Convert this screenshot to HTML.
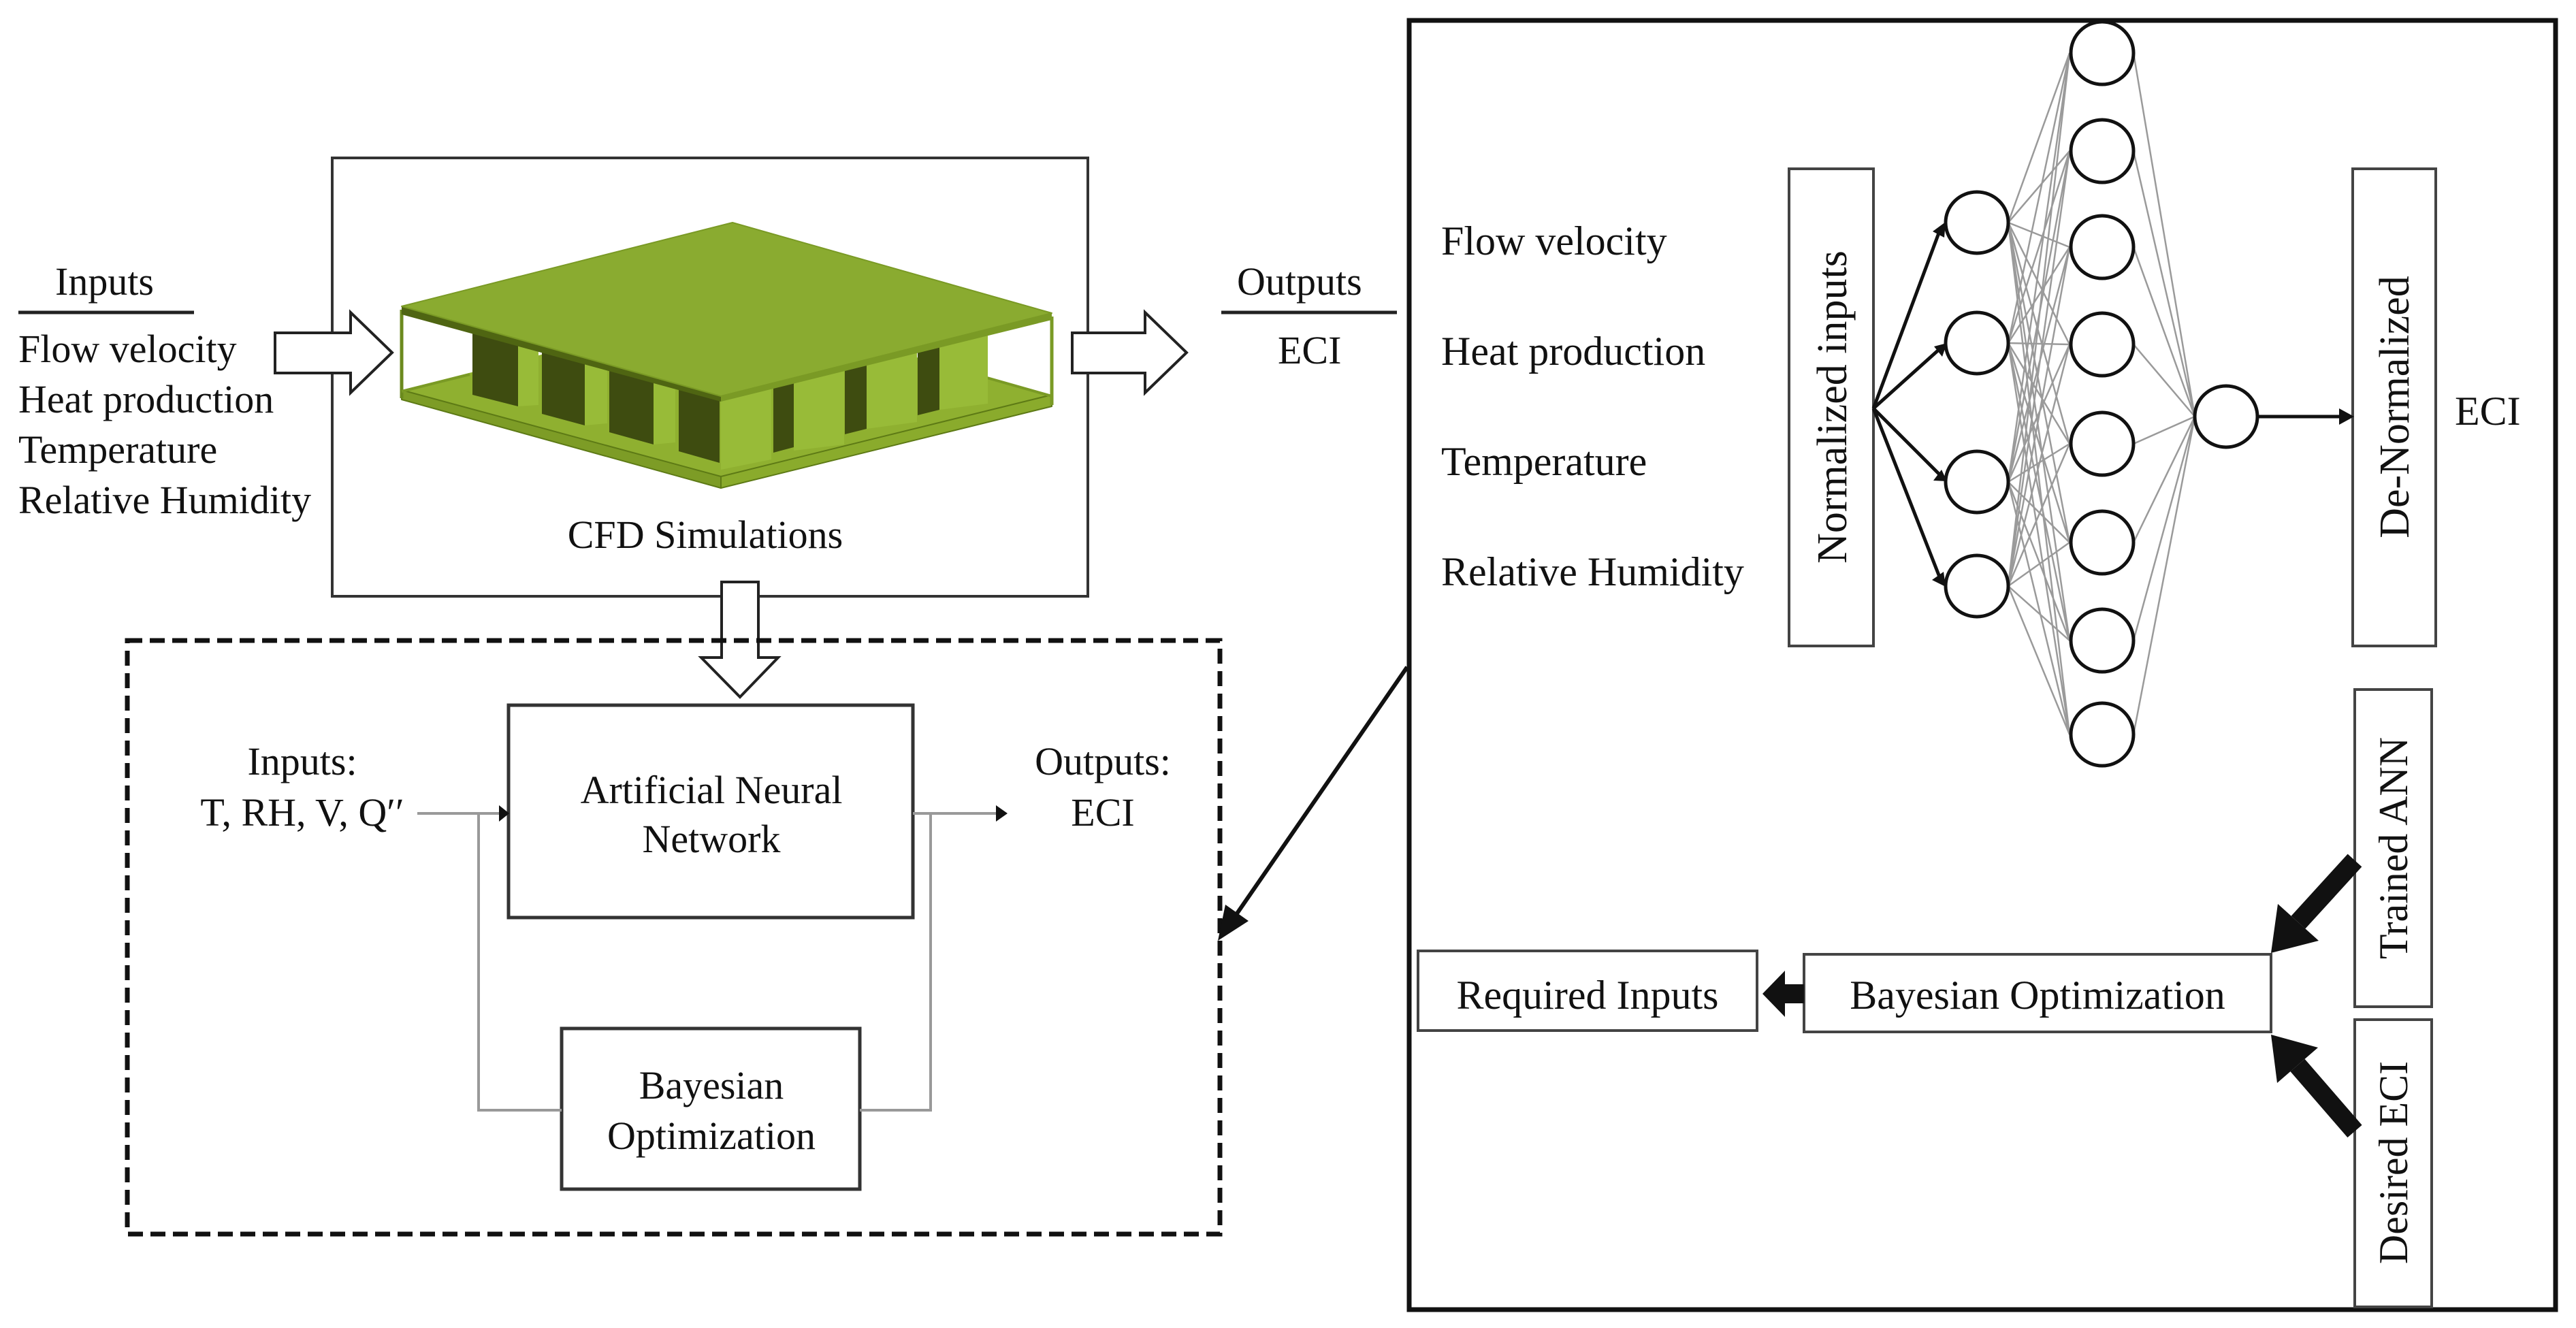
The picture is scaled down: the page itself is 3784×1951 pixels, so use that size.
<!DOCTYPE html>
<html><head><meta charset="utf-8"><style>
html,body{margin:0;padding:0;background:#fff;}
svg{display:block;}
text{font-family:"Liberation Serif",serif;fill:#111;}
</style></head><body>
<svg width="3784" height="1951" viewBox="0 0 3784 1951" xmlns="http://www.w3.org/2000/svg">
<rect width="3784" height="1951" fill="#fff"/>

<!-- Left inputs -->
<g font-size="58">
<text x="81" y="433">Inputs</text>
<text x="27" y="532">Flow velocity</text>
<text x="27" y="606">Heat production</text>
<text x="27" y="680">Temperature</text>
<text x="27" y="754">Relative Humidity</text>
<text x="1817" y="433">Outputs</text>
<text x="1877" y="534">ECI</text>
</g>
<line x1="27" y1="459" x2="285" y2="459" stroke="#222" stroke-width="5"/>
<line x1="1794" y1="459" x2="2052" y2="459" stroke="#222" stroke-width="5"/>

<!-- CFD box -->
<rect x="488" y="232" width="1110" height="644" fill="none" stroke="#333" stroke-width="4"/>
<text x="1036" y="805" font-size="58" text-anchor="middle">CFD Simulations</text>

<!-- Heatsink -->
<g stroke-linejoin="round">
<polygon points="590,573 1076,450 1545,580 1059,700" fill="#8fb030"/>
<polygon points="590,573 1059,700 1059,717 590,587" fill="#7d9c26" stroke="#5d7a15" stroke-width="2"/>
<polygon points="1059,700 1545,580 1545,597 1059,717" fill="#8aab2c" stroke="#5d7a15" stroke-width="2"/>
<line x1="590" y1="455" x2="590" y2="585" stroke="#6b8a1e" stroke-width="5"/>
<line x1="1545" y1="465" x2="1545" y2="595" stroke="#7a9a25" stroke-width="5"/>
<line x1="590" y1="575" x2="690" y2="550" stroke="#7a9a25" stroke-width="4"/>
<line x1="1450" y1="555" x2="1545" y2="582" stroke="#7a9a25" stroke-width="4"/>
<!-- right fins -->
<polygon points="1348,480 1380,480 1380,602 1348,610" fill="#3e4c10"/>
<polygon points="1380,480 1451,480 1451,593 1380,602" fill="#98bb38"/>
<polygon points="1241,500 1273,500 1273,630 1241,638" fill="#3e4c10"/>
<polygon points="1273,500 1347,500 1347,620 1273,630" fill="#98bb38"/>
<polygon points="1136,530 1166,530 1166,657 1136,665" fill="#3e4c10"/>
<polygon points="1166,530 1240,530 1240,653 1166,662" fill="#98bb38"/>
<polygon points="1059,560 1133,560 1133,675 1059,690" fill="#98bb38"/>
<!-- left fins -->
<polygon points="761,480 791,480 791,595 761,597" fill="#98bb38"/>
<polygon points="694,470 761,470 761,597 694,580" fill="#3e4c10"/>
<polygon points="859,500 892,500 892,622 859,625" fill="#98bb38"/>
<polygon points="796,490 859,490 859,625 796,608" fill="#3e4c10"/>
<polygon points="960,520 992,520 992,650 960,653" fill="#98bb38"/>
<polygon points="895,510 960,510 960,653 895,635" fill="#3e4c10"/>
<polygon points="997,540 1057,540 1057,680 997,663" fill="#3e4c10"/>
<!-- top plate -->
<polygon points="590,450 1059,582 1059,590 590,462" fill="#4f6512"/>
<polygon points="1059,582 1545,460 1545,470 1059,590" fill="#7a9a25"/>
<polygon points="590,450 1076,327 1545,460 1059,582" fill="#8aab30" stroke="#7a9a25" stroke-width="2"/>
</g>

<!-- hollow block arrows -->
<polygon points="404,489 515,489 515,459 576,518 515,577 515,548 404,548" fill="#fff" stroke="#222" stroke-width="4" stroke-linejoin="miter"/>
<polygon points="1575,489 1682,489 1682,459 1743,518 1682,577 1682,548 1575,548" fill="#fff" stroke="#222" stroke-width="4"/>
<polygon points="1060,855 1114,855 1114,966 1143,966 1087,1024 1030,966 1060,966" fill="#fff" stroke="#222" stroke-width="4"/>

<!-- dashed box -->
<rect x="187" y="941" width="1605" height="872" fill="none" stroke="#111" stroke-width="7" stroke-dasharray="22,11"/>

<!-- ANN box -->
<rect x="747" y="1036" width="594" height="312" fill="#fff" stroke="#333" stroke-width="5"/>
<g font-size="58" text-anchor="middle">
<text x="1045" y="1180">Artificial  Neural</text>
<text x="1045" y="1252">Network</text>
</g>
<rect x="825" y="1511" width="438" height="236" fill="#fff" stroke="#333" stroke-width="5"/>
<g font-size="58" text-anchor="middle">
<text x="1045" y="1614">Bayesian</text>
<text x="1045" y="1688">Optimization</text>
<text x="444" y="1138">Inputs:</text>
<text x="444" y="1213">T, RH, V, Q′′</text>
<text x="1620" y="1138">Outputs:</text>
<text x="1620" y="1213">ECI</text>
</g>
<g stroke="#999" stroke-width="4" fill="none">
<polyline points="613,1195 735,1195"/>
<polyline points="703,1195 703,1631 825,1631"/>
<polyline points="1341,1195 1465,1195"/>
<polyline points="1367,1195 1367,1631 1263,1631"/>
</g>
<polygon points="733,1183 748,1195 733,1207" fill="#111"/>
<polygon points="1463,1183 1480,1195 1463,1207" fill="#111"/>

<!-- long diagonal arrow -->
<line x1="2067" y1="980" x2="1815" y2="1345" stroke="#111" stroke-width="6"/>
<polygon points="1789,1382 1834,1353 1800,1329" fill="#111"/>

<!-- right big box -->
<rect x="2070" y="30" width="1684" height="1894" fill="none" stroke="#111" stroke-width="7"/>

<g font-size="60">
<text x="2117" y="374">Flow velocity</text>
<text x="2117" y="536">Heat production</text>
<text x="2117" y="698">Temperature</text>
<text x="2117" y="860">Relative Humidity</text>
<text x="3606" y="624">ECI</text>
</g>
<rect x="2628" y="248" width="124" height="701" fill="#fff" stroke="#444" stroke-width="4"/>
<text transform="translate(2712,598) rotate(-90)" font-size="62" text-anchor="middle">Normalized  inputs</text>
<rect x="3456" y="248" width="122" height="701" fill="#fff" stroke="#444" stroke-width="4"/>
<text transform="translate(3538,598) rotate(-90)" font-size="62" text-anchor="middle">De-Normalized</text>

<!-- NN connections -->
<g stroke="#888" stroke-width="2.5" opacity="0.85">
<path d="M2950 327 L3040 78 M2950 327 L3040 222 M2950 327 L3040 363 M2950 327 L3040 506 M2950 327 L3040 652 M2950 327 L3040 797 M2950 327 L3040 941 M2950 327 L3040 1079
M2950 504 L3040 78 M2950 504 L3040 222 M2950 504 L3040 363 M2950 504 L3040 506 M2950 504 L3040 652 M2950 504 L3040 797 M2950 504 L3040 941 M2950 504 L3040 1079
M2950 708 L3040 78 M2950 708 L3040 222 M2950 708 L3040 363 M2950 708 L3040 506 M2950 708 L3040 652 M2950 708 L3040 797 M2950 708 L3040 941 M2950 708 L3040 1079
M2950 861 L3040 78 M2950 861 L3040 222 M2950 861 L3040 363 M2950 861 L3040 506 M2950 861 L3040 652 M2950 861 L3040 797 M2950 861 L3040 941 M2950 861 L3040 1079
M3134 78 L3224 612 M3134 222 L3224 612 M3134 363 L3224 612 M3134 506 L3224 612 M3134 652 L3224 612 M3134 797 L3224 612 M3134 941 L3224 612 M3134 1079 L3224 612" fill="none"/>
</g>
<!-- input arrows -->
<g stroke="#111" stroke-width="5">
<line x1="2752" y1="600" x2="2850" y2="337"/>
<line x1="2752" y1="600" x2="2850" y2="512"/>
<line x1="2752" y1="600" x2="2850" y2="698"/>
<line x1="2752" y1="600" x2="2850" y2="850"/>
<line x1="3316" y1="612" x2="3440" y2="612"/>
</g>
<polygon points="2858,326 2856,349 2839,340" fill="#111"/>
<polygon points="2860,504 2853,524 2841,509" fill="#111"/>
<polygon points="2860,707 2840,706 2852,690" fill="#111"/>
<polygon points="2858,862 2838,852 2855,840" fill="#111"/>
<polygon points="3436,600 3458,612 3436,624" fill="#111"/>
<!-- nodes -->
<g fill="#fff" stroke="#111" stroke-width="5">
<ellipse cx="2904" cy="327" rx="46" ry="45"/>
<ellipse cx="2904" cy="504" rx="46" ry="45"/>
<ellipse cx="2904" cy="708" rx="46" ry="45"/>
<ellipse cx="2904" cy="861" rx="46" ry="45"/>
<ellipse cx="3088" cy="78" rx="46" ry="46"/>
<ellipse cx="3088" cy="222" rx="46" ry="46"/>
<ellipse cx="3088" cy="363" rx="46" ry="46"/>
<ellipse cx="3088" cy="506" rx="46" ry="46"/>
<ellipse cx="3088" cy="652" rx="46" ry="46"/>
<ellipse cx="3088" cy="797" rx="46" ry="46"/>
<ellipse cx="3088" cy="941" rx="46" ry="46"/>
<ellipse cx="3088" cy="1079" rx="46" ry="46"/>
<ellipse cx="3270" cy="612" rx="46" ry="45"/>
</g>

<!-- bottom right -->
<rect x="3459" y="1013" width="113" height="466" fill="#fff" stroke="#444" stroke-width="4"/>
<text transform="translate(3536,1246) rotate(-90)" font-size="60" text-anchor="middle">Trained ANN</text>
<rect x="3459" y="1498" width="113" height="422" fill="#fff" stroke="#444" stroke-width="4"/>
<text transform="translate(3536,1708) rotate(-90)" font-size="60" text-anchor="middle">Desired ECI</text>
<rect x="2650" y="1402" width="686" height="114" fill="#fff" stroke="#444" stroke-width="4"/>
<text x="2993" y="1482" font-size="60" text-anchor="middle">Bayesian Optimization</text>
<rect x="2083" y="1397" width="498" height="117" fill="#fff" stroke="#444" stroke-width="4"/>
<text x="2332" y="1482" font-size="60" text-anchor="middle">Required Inputs</text>
<rect x="2618" y="1446" width="32" height="28" fill="#111"/>
<polygon points="2589,1460 2622,1426 2622,1494" fill="#111"/>
<line x1="3459" y1="1264" x2="3376" y2="1355" stroke="#111" stroke-width="28"/>
<polygon points="3336,1400 3406,1382 3346,1328" fill="#111"/>
<line x1="3459" y1="1662" x2="3375" y2="1565" stroke="#111" stroke-width="28"/>
<polygon points="3336,1520 3405,1539 3345,1591" fill="#111"/>
</svg>
</body></html>
